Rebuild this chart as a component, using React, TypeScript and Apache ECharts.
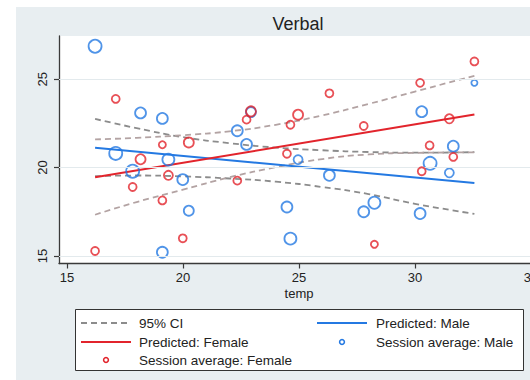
import React, { useEffect, useRef } from "react";
import * as echarts from "echarts";

// ---- data ----
const xTicks = [15, 20, 25, 30, 35];
const yTicks = [15, 20, 25];

const maleTemp = [16.21, 17.1, 17.83, 18.17, 19.11, 19.11, 19.37, 19.99, 20.25, 22.34, 22.74, 22.93, 24.48, 24.63, 24.96, 26.31, 27.79, 28.25, 30.22, 30.29, 30.65, 31.48, 31.65, 32.56];
const maleScore = [26.86, 20.8, 19.79, 23.09, 22.78, 15.21, 20.45, 19.32, 17.56, 22.08, 21.31, 23.14, 17.77, 15.98, 20.45, 19.56, 17.5, 18.01, 17.4, 23.16, 20.24, 19.7, 21.21, 24.79];
const maleN = [27, 27, 27, 19, 19, 19, 23, 19, 16, 19, 19, 16, 19, 23, 13, 19, 19, 23, 19, 19, 27, 13, 19, 6];

const femaleTemp = [16.21, 17.1, 17.83, 18.17, 19.11, 19.11, 19.37, 19.99, 20.25, 22.34, 22.74, 22.93, 24.48, 24.63, 24.96, 26.31, 27.79, 28.25, 30.22, 30.29, 30.63, 31.48, 31.65, 32.56];
const femaleScore = [15.28, 23.88, 18.9, 20.47, 21.29, 18.14, 19.56, 16.0, 21.42, 19.26, 22.71, 23.18, 20.78, 22.42, 22.99, 24.2, 22.35, 15.66, 24.79, 19.79, 21.25, 22.76, 20.6, 26.0];
const femaleN = [10, 10, 10, 16, 8, 10, 13, 10, 16, 10, 10, 16, 10, 10, 16, 10, 10, 8, 10, 10, 10, 13, 10, 10];

const predTemp = [16.21, 32.56];
const predMale = [21.12, 19.13];
const predFemale = [19.45, 23.0];

const ciTemp = [16.21, 18, 20, 22, 24, 26, 28, 30, 32.56];
const maleUpper = [22.75, 22.23, 21.72, 21.38, 21.13, 20.98, 20.88, 20.84, 20.87];
const maleLower = [19.51, 19.55, 19.5, 19.38, 19.2, 18.9, 18.5, 17.95, 17.38];
const femaleUpper = [21.59, 21.68, 21.83, 22.05, 22.42, 22.95, 23.6, 24.3, 25.19];
const femaleLower = [17.33, 18.05, 18.75, 19.45, 20.02, 20.48, 20.74, 20.83, 20.86];

const BLUE = "#2479e2";
const RED = "#e2242c";
const CI_GRAY = "#8c8c8c";
const CI_WARM = "#b3a3a3";
const FONT = "Liberation Sans, Arial, sans-serif";

const zip = (xs: number[], ys: number[]) => xs.map((x, i) => [x, ys[i]]);
const zip3 = (xs: number[], ys: number[], ns: number[]) => xs.map((x, i) => [x, ys[i], ns[i]]);

export default function App() {
  const ref = useRef<HTMLDivElement>(null);

  useEffect(() => {
    if (!ref.current) return;
    const chart = echarts.init(ref.current, undefined, { renderer: "svg" });

    const ciSeries = (name: string, xs: number[], ys: number[], color: string) => ({
      type: "line",
      name,
      data: zip(xs, ys),
      smooth: 0.5,
      showSymbol: false,
      symbol: "none",
      silent: true,
      lineStyle: { color, width: 1.8, type: [6, 4] },
      z: 2,
    });

    const legendY = [323, 342, 360];
    const col1Key = [81, 131];
    const col2Key = [317, 367];
    const col1Text = 139;
    const col2Text = 376;
    const legendText = (text: string, x: number, y: number) => ({
      type: "text",
      style: { text, x, y, fill: "#222", font: `13.5px ${FONT}`, verticalAlign: "middle", align: "left" },
    });

    chart.setOption({
      animation: false,
      title: {
        text: "Verbal",
        left: 293,
        top: 10,
        textAlign: "center",
        textStyle: { fontFamily: FONT, fontSize: 18, fontWeight: "normal", color: "#222" },
      },
      grid: {
        left: 59,
        top: 36,
        width: 518.4,
        height: 227.5,
        show: true,
        backgroundColor: "#ffffff",
        borderWidth: 0,
        containLabel: false,
      },
      xAxis: {
        type: "value",
        min: 14.655,
        max: 37,
        axisLine: { show: true, onZero: false, lineStyle: { color: "#3a3a3a", width: 1.3 } },
        axisTick: { show: true, customValues: xTicks, length: 5, lineStyle: { color: "#3a3a3a", width: 1.2 } },
        axisLabel: { customValues: xTicks, fontFamily: FONT, fontSize: 13, color: "#222", margin: 7 },
        splitLine: { show: false },
      },
      yAxis: {
        type: "value",
        min: 14.574,
        max: 27.44,
        axisLine: { show: true, onZero: false, lineStyle: { color: "#3a3a3a", width: 1.3 } },
        axisTick: { show: true, customValues: yTicks, length: 5, lineStyle: { color: "#3a3a3a", width: 1.2 } },
        axisLabel: { customValues: yTicks, rotate: 90, fontFamily: FONT, fontSize: 13, color: "#222", margin: 10 },
        splitLine: { show: false },
      },
      series: [
        {
          type: "line",
          name: "grid",
          data: [],
          silent: true,
          markLine: {
            silent: true,
            symbol: "none",
            label: { show: false },
            lineStyle: { color: "#e3eaed", type: "solid", width: 1 },
            data: yTicks.map((v) => ({ yAxis: v })),
          },
          z: 1,
        },
        ciSeries("95% CI", ciTemp, maleUpper, CI_GRAY),
        ciSeries("95% CI", ciTemp, maleLower, CI_GRAY),
        ciSeries("95% CI", ciTemp, femaleUpper, CI_WARM),
        ciSeries("95% CI", ciTemp, femaleLower, CI_WARM),
        {
          type: "line",
          name: "Predicted: Male",
          data: zip(predTemp, predMale),
          showSymbol: false,
          symbol: "none",
          lineStyle: { color: BLUE, width: 2 },
          z: 3,
        },
        {
          type: "line",
          name: "Predicted: Female",
          data: zip(predTemp, predFemale),
          showSymbol: false,
          symbol: "none",
          lineStyle: { color: RED, width: 2 },
          z: 3,
        },
        {
          type: "scatter",
          name: "Session average: Male",
          data: zip3(maleTemp, maleScore, maleN),
          symbol: "circle",
          symbolSize: (v: number[]) => 2.5 * Math.sqrt(v[2]),
          itemStyle: { color: "rgba(0,0,0,0)", borderColor: BLUE, borderWidth: 1.8 },
          z: 4,
        },
        {
          type: "scatter",
          name: "Session average: Female",
          data: zip3(femaleTemp, femaleScore, femaleN),
          symbol: "circle",
          symbolSize: (v: number[]) => 2.5 * Math.sqrt(v[2]),
          itemStyle: { color: "rgba(0,0,0,0)", borderColor: RED, borderWidth: 1.8 },
          z: 5,
        },
      ],
      graphic: [
        {
          type: "text",
          style: { text: "temp", x: 299, y: 293, fill: "#222", font: `13px ${FONT}`, align: "center", verticalAlign: "middle" },
        },
        {
          type: "rect",
          shape: { x: 75.5, y: 309.5, width: 448, height: 61 },
          style: { fill: "#ffffff", stroke: "#333", lineWidth: 1 },
        },
        {
          type: "line",
          shape: { x1: col1Key[0], y1: legendY[0], x2: col1Key[1], y2: legendY[0] },
          style: { stroke: CI_GRAY, lineWidth: 1.8, lineDash: [6, 4] },
        },
        legendText("95% CI", col1Text, legendY[0]),
        {
          type: "line",
          shape: { x1: col2Key[0], y1: legendY[0], x2: col2Key[1], y2: legendY[0] },
          style: { stroke: BLUE, lineWidth: 2 },
        },
        legendText("Predicted: Male", col2Text, legendY[0]),
        {
          type: "line",
          shape: { x1: col1Key[0], y1: legendY[1], x2: col1Key[1], y2: legendY[1] },
          style: { stroke: RED, lineWidth: 2 },
        },
        legendText("Predicted: Female", col1Text, legendY[1]),
        {
          type: "circle",
          shape: { cx: (col2Key[0] + col2Key[1]) / 2, cy: legendY[1], r: 2.4 },
          style: { fill: "none", stroke: BLUE, lineWidth: 1.6 },
        },
        legendText("Session average: Male", col2Text, legendY[1]),
        {
          type: "circle",
          shape: { cx: (col1Key[0] + col1Key[1]) / 2, cy: legendY[2], r: 2.4 },
          style: { fill: "none", stroke: RED, lineWidth: 1.6 },
        },
        legendText("Session average: Female", col1Text, legendY[2]),
      ],
    });

    return () => chart.dispose();
  }, []);

  return (
    <div style={{ position: "fixed", left: 0, top: 0, width: 530, height: 380, background: "#ffffff", overflow: "hidden" }}>
      <div style={{ position: "absolute", left: 16, top: 7, width: 514, height: 373, background: "#e8eef1" }} />
      <div ref={ref} style={{ position: "absolute", left: 0, top: 0, width: 600, height: 380 }} />
    </div>
  );
}
